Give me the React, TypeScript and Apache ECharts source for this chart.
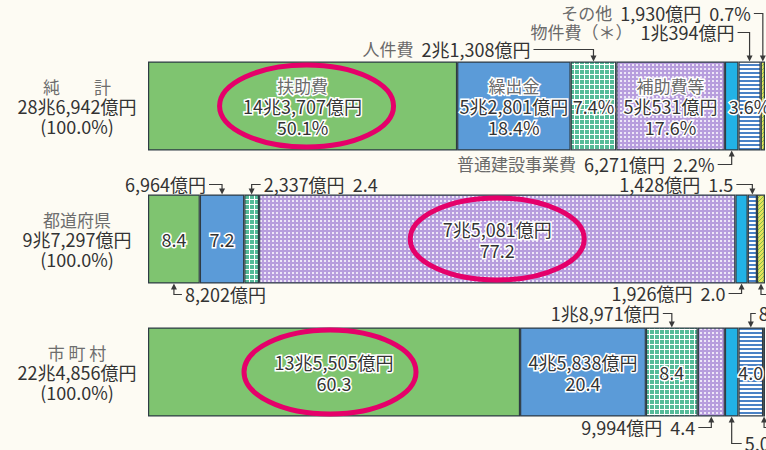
import React, { useEffect, useRef } from 'react';
import * as echarts from 'echarts';

// ---- data ----
const categories = ['純計', '都道府県', '市町村'];
const categoryLabels = ['純　　計', '都道府県', '市 町 村'];
const totals = ['28兆6,942億円', '9兆7,297億円', '22兆4,856億円'];
const totalPct = ['(100.0%)', '(100.0%)', '(100.0%)'];
const seriesNames = ['扶助費', '繰出金', '人件費', '補助費等', '普通建設事業費', '物件費', 'その他'];
const pctJunkei = [50.1, 18.4, 7.4, 17.6, 2.2, 3.6, 0.7];
const pctTodofuken = [8.4, 7.2, 2.4, 77.2, 2.0, 1.5, 1.3];
const pctShichoson = [60.3, 20.4, 8.4, 4.4, 2.2, 4.0, 0.3];
const amtJunkei = ['14兆3,707億円', '5兆2,801億円', '2兆1,308億円', '5兆531億円', '6,271億円', '1兆394億円', '1,930億円'];
const amtTodofuken = ['8,202億円', '6,964億円', '2,337億円', '7兆5,081億円', '1,926億円', '1,428億円', '1,359億円'];
const amtShichoson = ['13兆5,505億円', '4兆5,838億円', '1兆8,971億円', '9,994億円', '5,045億円', '8,958億円', '545億円'];
const pctRows = [pctJunkei, pctTodofuken, pctShichoson];
const amtRows = [amtJunkei, amtTodofuken, amtShichoson];

// ---- label layout config ----
type Part = 'name' | 'amt' | 'pct';
const insideParts: (Part[] | null)[][] = [
  [['name', 'amt', 'pct'], ['name', 'amt', 'pct'], ['pct'], ['name', 'amt', 'pct'], null, ['pct'], null],
  [['pct'], ['pct'], null, ['amt', 'pct'], null, null, null],
  [['amt', 'pct'], ['amt', 'pct'], ['pct'], null, null, ['pct'], null],
];

type Callout = {
  row: number; s: number; side: 'top' | 'bottom'; dir: 'left' | 'right';
  rise: number; leg: number; parts: Part[]; nameText?: string;
};
const callouts: Callout[] = [
  { row: 0, s: 2, side: 'top', dir: 'left', rise: 12, leg: 60, parts: ['name', 'amt'] },
  { row: 0, s: 5, side: 'top', dir: 'left', rise: 29, leg: 12, parts: ['name', 'amt'], nameText: '物件費（＊）' },
  { row: 0, s: 6, side: 'top', dir: 'left', rise: 48, leg: 9, parts: ['name', 'amt', 'pct'] },
  { row: 0, s: 4, side: 'bottom', dir: 'left', rise: 14, leg: 14, parts: ['name', 'amt', 'pct'] },
  { row: 1, s: 1, side: 'top', dir: 'left', rise: 10, leg: 13, parts: ['amt'] },
  { row: 1, s: 2, side: 'top', dir: 'right', rise: 10, leg: 9, parts: ['amt', 'pct'] },
  { row: 1, s: 5, side: 'top', dir: 'left', rise: 10, leg: 16, parts: ['amt', 'pct'] },
  { row: 1, s: 0, side: 'bottom', dir: 'right', rise: 11, leg: 8, parts: ['amt'] },
  { row: 1, s: 4, side: 'bottom', dir: 'left', rise: 10, leg: 13, parts: ['amt', 'pct'] },
  { row: 1, s: 6, side: 'bottom', dir: 'right', rise: 11, leg: 10, parts: [] },
  { row: 2, s: 2, side: 'top', dir: 'left', rise: 14, leg: 9, parts: ['amt'] },
  { row: 2, s: 5, side: 'top', dir: 'right', rise: 14, leg: 5, parts: ['amt'] },
  { row: 2, s: 3, side: 'bottom', dir: 'left', rise: 11, leg: 13, parts: ['amt', 'pct'] },
  { row: 2, s: 4, side: 'bottom', dir: 'right', rise: 27, leg: 10, parts: ['amt', 'pct'] },
  { row: 2, s: 6, side: 'bottom', dir: 'right', rise: 11, leg: 10, parts: [] },
];

const highlights = [
  { row: 0, s: 0, dx: 4, rx: 87, ry: 41 },
  { row: 1, s: 3, dx: 0, rx: 87, ry: 41 },
  { row: 2, s: 0, dx: -4, rx: 86, ry: 42 },
];

const FONT = '"Noto Sans CJK JP", "Noto Sans", sans-serif';
const BAR_W = 89;
const FS = 18;

function pctText(row: number, v: number) {
  return row === 0 ? v.toFixed(1) + '%' : v.toFixed(1);
}

function makePattern(w: number, h: number, draw: (ctx: CanvasRenderingContext2D) => void) {
  const c = document.createElement('canvas');
  c.width = w;
  c.height = h;
  const ctx = c.getContext('2d')!;
  draw(ctx);
  return { image: c, repeat: 'repeat', imageWidth: w, imageHeight: h } as any;
}

export default function App() {
  const ref = useRef<HTMLDivElement>(null);
  useEffect(() => {
    if (!ref.current) return;
    const chart = echarts.init(ref.current, null, { renderer: 'svg' });

    const fills: any[] = [
      '#7fc470',
      '#5b9bd8',
      makePattern(5, 5, (ctx) => {
        ctx.fillStyle = '#ffffff'; ctx.fillRect(0, 0, 5, 5);
        ctx.fillStyle = '#55bb98'; ctx.fillRect(0, 0, 4, 4);
      }),
      makePattern(4, 4, (ctx) => {
        ctx.fillStyle = '#b79ddd'; ctx.fillRect(0, 0, 4, 4);
        ctx.fillStyle = 'rgba(255,255,255,0.75)'; ctx.fillRect(0, 0, 2, 2);
      }),
      '#22b2e6',
      makePattern(4, 4, (ctx) => {
        ctx.fillStyle = '#ffffff'; ctx.fillRect(0, 0, 4, 4);
        ctx.fillStyle = '#4a82c6'; ctx.fillRect(0, 0, 4, 2);
      }),
      makePattern(4, 4, (ctx) => {
        ctx.fillStyle = '#e4e35a'; ctx.fillRect(0, 0, 4, 4);
        ctx.strokeStyle = '#86bf4c'; ctx.lineWidth = 1;
        ctx.beginPath(); ctx.moveTo(0, 4); ctx.lineTo(4, 0); ctx.stroke();
      }),
    ];

    const insideRich = {
      n: { fontFamily: FONT, fontSize: FS - 1, color: '#6a6a6a', lineHeight: 21, textBorderColor: '#fff', textBorderWidth: 3 },
      a: { fontFamily: FONT, fontSize: FS, color: '#333', lineHeight: 21, textBorderColor: '#fff', textBorderWidth: 3 },
    };

    const insideLabel = (ri: number, si: number) => {
      const parts = insideParts[ri][si];
      if (!parts) return { show: false };
      const lines = parts.map((p) => {
        if (p === 'name') return `{n|${seriesNames[si]}}`;
        if (p === 'amt') return `{a|${amtRows[ri][si]}}`;
        return `{a|${pctText(ri, pctRows[ri][si])}}`;
      });
      return { show: true, position: 'inside', formatter: lines.join('\n'), rich: insideRich };
    };

    const option: any = {
      animation: false,
      backgroundColor: '#fdfbf3',
      grid: { left: 148, right: 1, top: 39.5, bottom: 11.5, containLabel: false },
      xAxis: { type: 'value', min: 0, max: 100, show: false },
      yAxis: {
        type: 'category',
        data: categories,
        inverse: true,
        axisLine: { show: false },
        axisTick: { show: false },
        splitLine: { show: false },
        axisLabel: {
          align: 'center',
          margin: 71,
          formatter: (v: string) => {
            const i = categories.indexOf(v);
            return `{n|${categoryLabels[i]}}\n{a|${totals[i]}}\n{a|${totalPct[i]}}`;
          },
          rich: {
            n: { fontFamily: FONT, fontSize: 17, color: '#6e6e6e', lineHeight: 20, align: 'center' },
            a: { fontFamily: FONT, fontSize: FS, color: '#333', lineHeight: 20, align: 'center' },
          },
        },
      },
      series: seriesNames.map((name, si) => ({
        type: 'bar',
        name,
        stack: 'total',
        barWidth: BAR_W,
        itemStyle: { color: fills[si], borderColor: '#2e3b44', borderWidth: 1.2 },
        emphasis: { disabled: true },
        data: pctRows.map((row, ri) => ({ value: row[si], label: insideLabel(ri, si) })),
      })),
    };
    chart.setOption(option);

    const segMid = (ri: number, si: number) => {
      let start = 0;
      for (let k = 0; k < si; k++) start += pctRows[ri][k];
      return start + pctRows[ri][si] / 2;
    };
    const toPx = (ri: number, v: number) =>
      chart.convertToPixel({ gridIndex: 0 }, [v, categories[ri]]) as number[];

    const graphics: any[] = [];
    const lineStyle = { stroke: '#3a3a3a', lineWidth: 1.2, fill: 'none' };
    const calloutRich = {
      n: { fontFamily: FONT, fontSize: FS - 1, fill: '#6a6a6a', lineHeight: 18 },
      a: { fontFamily: FONT, fontSize: FS, fill: '#333', lineHeight: 18 },
    };

    callouts.forEach((c) => {
      const [x, cy] = toPx(c.row, segMid(c.row, c.s));
      const edge = c.side === 'top' ? cy - BAR_W / 2 : cy + BAR_W / 2;
      const lineY = c.side === 'top' ? edge - c.rise : edge + c.rise;
      const sign = c.dir === 'left' ? -1 : 1;
      const endX = x + sign * c.leg;
      graphics.push({
        type: 'polyline',
        silent: true,
        shape: { points: [[endX, lineY], [x, lineY], [x, c.side === 'top' ? edge - 5 : edge + 5]] },
        style: lineStyle,
      });
      const ah = c.side === 'top' ? -6 : 6;
      graphics.push({
        type: 'polygon',
        silent: true,
        shape: { points: [[x - 3, edge + ah], [x + 3, edge + ah], [x, edge]] },
        style: { fill: '#3a3a3a' },
      });
      if (c.parts.length) {
        const txt = c.parts
          .map((p) => {
            if (p === 'name') return `{n|${c.nameText ?? seriesNames[c.s]}}`;
            if (p === 'amt') return `{a|${amtRows[c.row][c.s]}}`;
            return `{a|${pctText(c.row, pctRows[c.row][c.s])}}`;
          })
          .join('{a|  }');
        graphics.push({
          type: 'text',
          silent: true,
          x: endX + sign * 3,
          y: lineY - 1,
          style: {
            text: txt,
            rich: calloutRich,
            align: c.dir === 'left' ? 'right' : 'left',
            verticalAlign: 'middle',
            fontFamily: FONT,
            fontSize: FS,
          },
        });
      }
    });

    highlights.forEach((h) => {
      const [x, cy] = toPx(h.row, segMid(h.row, h.s));
      graphics.push({
        type: 'ellipse',
        silent: true,
        z: 100,
        shape: { cx: x + h.dx, cy, rx: h.rx, ry: h.ry },
        style: { fill: 'none', stroke: '#e5006a', lineWidth: 5 },
      });
    });

    chart.setOption({ graphic: graphics });

    return () => chart.dispose();
  }, []);

  return (
    <div
      ref={ref}
      style={{ position: 'fixed', left: 0, top: 0, width: 766, height: 450 }}
    />
  );
}
